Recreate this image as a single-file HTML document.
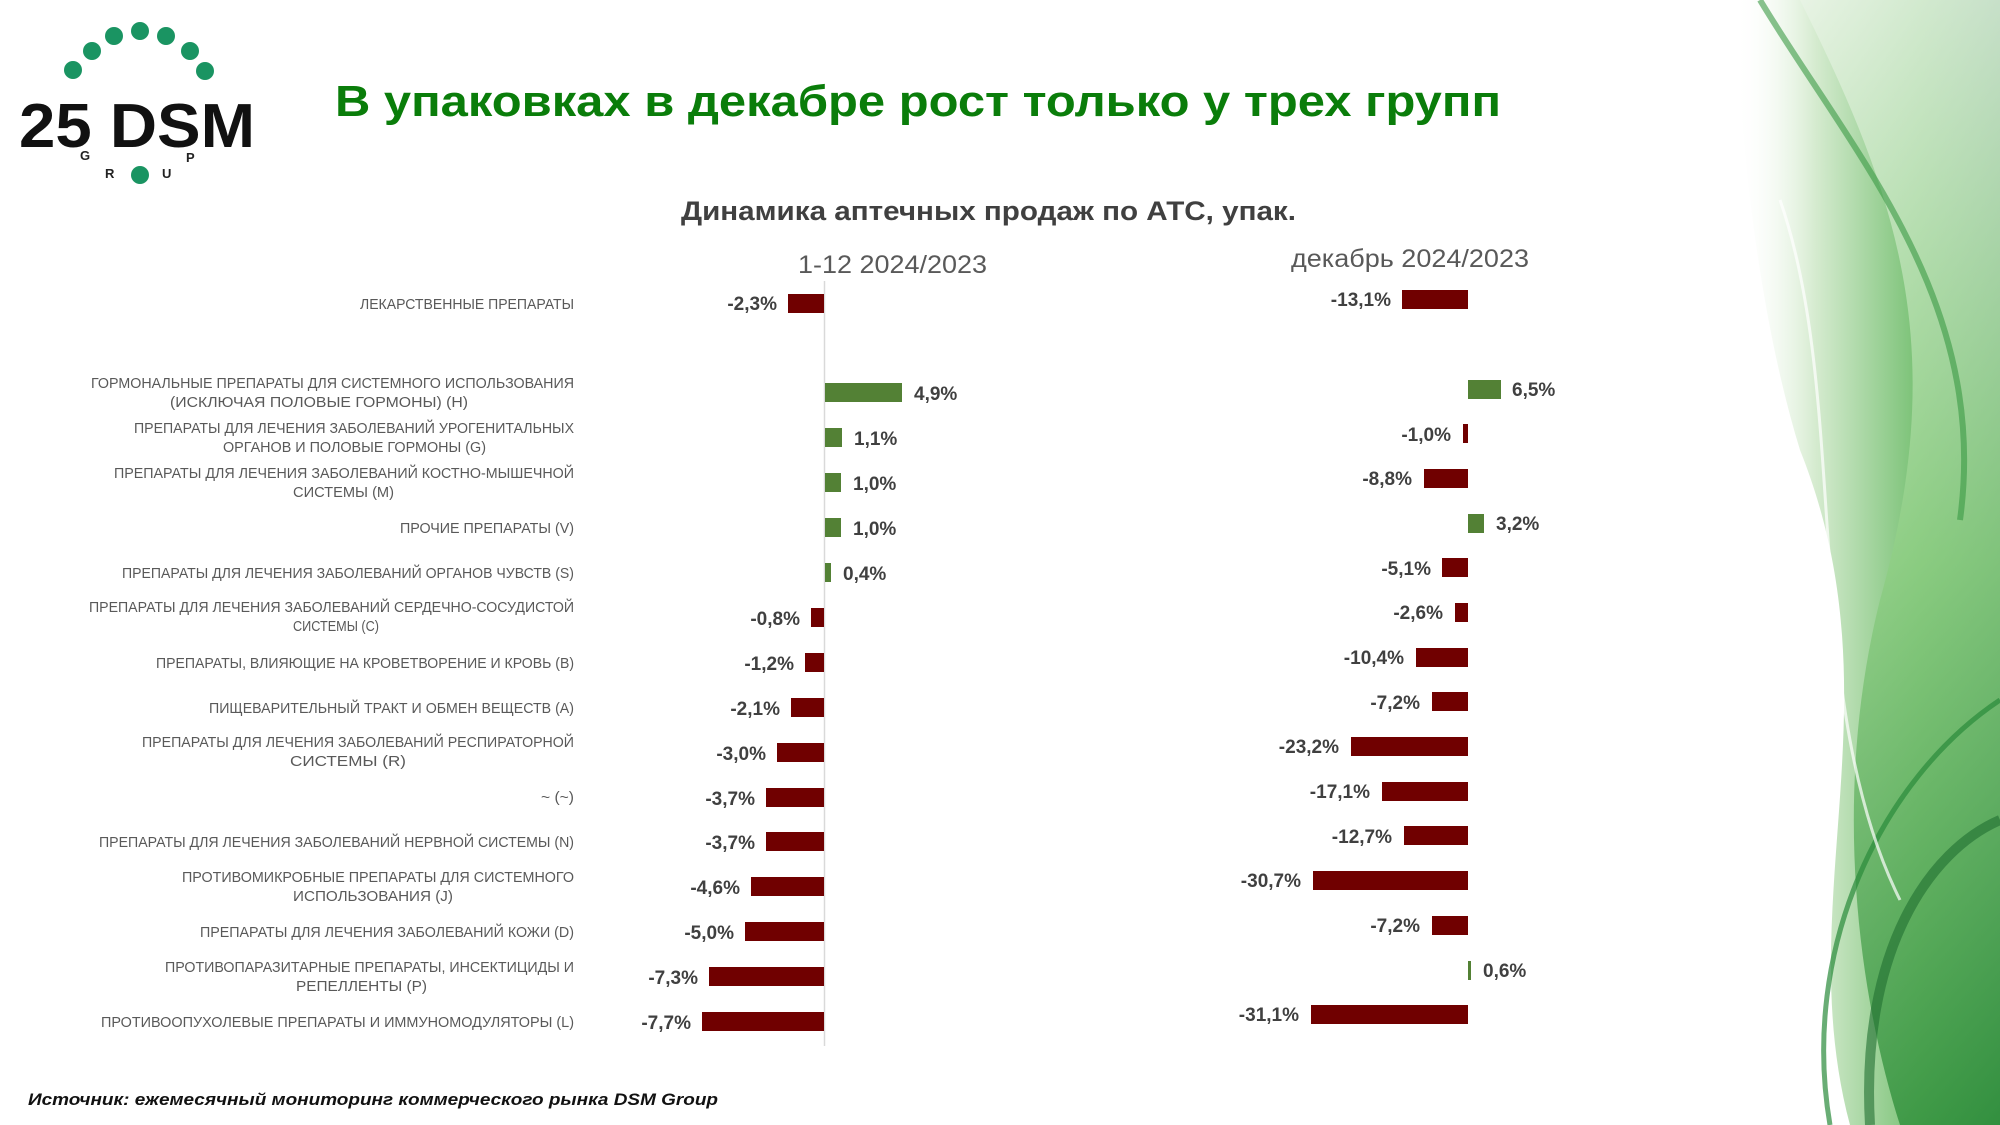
<!DOCTYPE html>
<html><head><meta charset="utf-8"><style>
html,body{margin:0;padding:0;background:#fff;}
svg{display:block;}
.lb{font-family:"Liberation Sans",sans-serif;font-size:15px;fill:#595959;}
.v{font-family:"Liberation Sans",sans-serif;font-size:19px;font-weight:bold;fill:#404040;}
</style></head><body>
<svg width="2000" height="1125" viewBox="0 0 2000 1125" xmlns="http://www.w3.org/2000/svg">
<defs>
<linearGradient id="g1" x1="0" y1="0" x2="1" y2="0">
<stop offset="0" stop-color="#ffffff" stop-opacity="0"/>
<stop offset="0.3" stop-color="#cfe8c8"/>
<stop offset="0.7" stop-color="#5fb55a"/>
<stop offset="1" stop-color="#1e7d36"/>
</linearGradient>
<linearGradient id="g2" x1="0" y1="0" x2="0" y2="1">
<stop offset="0" stop-color="#e9f4e6"/>
<stop offset="0.5" stop-color="#8fcf84"/>
<stop offset="1" stop-color="#2f8f3a"/>
</linearGradient>
</defs>
<!-- decoration -->
<path d="M1735 0 L2000 0 L2000 1125 L1850 1125 C1790 900 1900 700 1800 450 C1760 320 1740 150 1735 0Z" fill="url(#g1)" opacity="0.85"/>
<path d="M1800 0 C1900 200 1950 350 1880 600 C1830 800 1860 1000 1900 1125 L2000 1125 L2000 0Z" fill="url(#g2)" opacity="0.8"/>
<path d="M1760 0 C1850 150 1990 300 1960 520" stroke="#3a9a45" stroke-width="6" fill="none" opacity="0.6"/>
<path d="M1830 1125 C1800 950 1880 780 2000 700" stroke="#2a8a3a" stroke-width="5" fill="none" opacity="0.7"/>
<path d="M1870 1125 C1860 950 1930 850 2000 820" stroke="#1f6e30" stroke-width="10" fill="none" opacity="0.6"/>
<path d="M1780 200 C1850 400 1800 700 1900 900" stroke="#ffffff" stroke-width="3" fill="none" opacity="0.7"/>
<!-- logo -->
<g fill="#1a9462">
<circle cx="73" cy="70" r="9"/><circle cx="92" cy="51" r="9"/><circle cx="114" cy="36" r="9"/><circle cx="140" cy="31" r="9"/><circle cx="166" cy="36" r="9"/><circle cx="190" cy="51" r="9"/><circle cx="205" cy="71" r="9"/><circle cx="140" cy="175" r="9"/>
</g>
<text x="19" y="147" font-family="Liberation Sans,sans-serif" font-size="62" font-weight="bold" fill="#111" textLength="236" lengthAdjust="spacingAndGlyphs">25 DSM</text>
<g font-family="Liberation Sans,sans-serif" font-size="13" font-weight="bold" fill="#222">
<text x="80" y="160">G</text><text x="105" y="178">R</text><text x="162" y="178">U</text><text x="186" y="162">P</text>
</g>
<!-- titles -->
<text x="335" y="116" font-family="Liberation Sans,sans-serif" font-size="44" font-weight="bold" fill="#0a7d0a" textLength="1166" lengthAdjust="spacingAndGlyphs">В упаковках в декабре рост только у трех групп</text>
<text x="681" y="220" font-family="Liberation Sans,sans-serif" font-size="27" font-weight="bold" fill="#404040" textLength="615" lengthAdjust="spacingAndGlyphs">Динамика аптечных продаж по АТС, упак.</text>
<text x="798" y="273" font-family="Liberation Sans,sans-serif" font-size="25" fill="#595959" textLength="189" lengthAdjust="spacingAndGlyphs">1-12 2024/2023</text>
<text x="1291" y="267" font-family="Liberation Sans,sans-serif" font-size="25" fill="#595959" textLength="238" lengthAdjust="spacingAndGlyphs">декабрь 2024/2023</text>
<text x="28" y="1105" font-family="Liberation Sans,sans-serif" font-size="17" font-weight="bold" font-style="italic" fill="#111" textLength="690" lengthAdjust="spacingAndGlyphs">Источник: ежемесячный мониторинг коммерческого рынка DSM Group</text>
<!-- axis -->
<line x1="824.5" y1="281" x2="824.5" y2="1046" stroke="#d9d9d9" stroke-width="1.5"/>
<!-- category labels -->
<text class="lb" x="360" y="309" textLength="214" lengthAdjust="spacingAndGlyphs">ЛЕКАРСТВЕННЫЕ ПРЕПАРАТЫ</text>
<text class="lb" x="91" y="388" textLength="483" lengthAdjust="spacingAndGlyphs">ГОРМОНАЛЬНЫЕ ПРЕПАРАТЫ ДЛЯ СИСТЕМНОГО ИСПОЛЬЗОВАНИЯ</text>
<text class="lb" x="170" y="407" textLength="298" lengthAdjust="spacingAndGlyphs">(ИСКЛЮЧАЯ ПОЛОВЫЕ ГОРМОНЫ) (H)</text>
<text class="lb" x="134" y="433" textLength="440" lengthAdjust="spacingAndGlyphs">ПРЕПАРАТЫ ДЛЯ ЛЕЧЕНИЯ ЗАБОЛЕВАНИЙ УРОГЕНИТАЛЬНЫХ</text>
<text class="lb" x="223" y="452" textLength="263" lengthAdjust="spacingAndGlyphs">ОРГАНОВ И ПОЛОВЫЕ ГОРМОНЫ (G)</text>
<text class="lb" x="114" y="478" textLength="460" lengthAdjust="spacingAndGlyphs">ПРЕПАРАТЫ ДЛЯ ЛЕЧЕНИЯ ЗАБОЛЕВАНИЙ КОСТНО-МЫШЕЧНОЙ</text>
<text class="lb" x="293" y="497" textLength="101" lengthAdjust="spacingAndGlyphs">СИСТЕМЫ (M)</text>
<text class="lb" x="400" y="533" textLength="174" lengthAdjust="spacingAndGlyphs">ПРОЧИЕ ПРЕПАРАТЫ (V)</text>
<text class="lb" x="122" y="578" textLength="452" lengthAdjust="spacingAndGlyphs">ПРЕПАРАТЫ ДЛЯ ЛЕЧЕНИЯ ЗАБОЛЕВАНИЙ ОРГАНОВ ЧУВСТВ (S)</text>
<text class="lb" x="89" y="612" textLength="485" lengthAdjust="spacingAndGlyphs">ПРЕПАРАТЫ ДЛЯ ЛЕЧЕНИЯ ЗАБОЛЕВАНИЙ СЕРДЕЧНО-СОСУДИСТОЙ</text>
<text class="lb" x="293" y="631" textLength="86" lengthAdjust="spacingAndGlyphs">СИСТЕМЫ (C)</text>
<text class="lb" x="156" y="668" textLength="418" lengthAdjust="spacingAndGlyphs">ПРЕПАРАТЫ, ВЛИЯЮЩИЕ НА КРОВЕТВОРЕНИЕ И КРОВЬ (B)</text>
<text class="lb" x="209" y="713" textLength="365" lengthAdjust="spacingAndGlyphs">ПИЩЕВАРИТЕЛЬНЫЙ ТРАКТ И ОБМЕН ВЕЩЕСТВ (A)</text>
<text class="lb" x="142" y="747" textLength="432" lengthAdjust="spacingAndGlyphs">ПРЕПАРАТЫ ДЛЯ ЛЕЧЕНИЯ ЗАБОЛЕВАНИЙ РЕСПИРАТОРНОЙ</text>
<text class="lb" x="290" y="766" textLength="116" lengthAdjust="spacingAndGlyphs">СИСТЕМЫ (R)</text>
<text class="lb" x="541" y="802" textLength="33" lengthAdjust="spacingAndGlyphs">~ (~)</text>
<text class="lb" x="99" y="847" textLength="475" lengthAdjust="spacingAndGlyphs">ПРЕПАРАТЫ ДЛЯ ЛЕЧЕНИЯ ЗАБОЛЕВАНИЙ НЕРВНОЙ СИСТЕМЫ (N)</text>
<text class="lb" x="182" y="882" textLength="392" lengthAdjust="spacingAndGlyphs">ПРОТИВОМИКРОБНЫЕ ПРЕПАРАТЫ ДЛЯ СИСТЕМНОГО</text>
<text class="lb" x="293" y="901" textLength="160" lengthAdjust="spacingAndGlyphs">ИСПОЛЬЗОВАНИЯ (J)</text>
<text class="lb" x="200" y="937" textLength="374" lengthAdjust="spacingAndGlyphs">ПРЕПАРАТЫ ДЛЯ ЛЕЧЕНИЯ ЗАБОЛЕВАНИЙ КОЖИ (D)</text>
<text class="lb" x="165" y="972" textLength="409" lengthAdjust="spacingAndGlyphs">ПРОТИВОПАРАЗИТАРНЫЕ ПРЕПАРАТЫ, ИНСЕКТИЦИДЫ И</text>
<text class="lb" x="296" y="991" textLength="131" lengthAdjust="spacingAndGlyphs">РЕПЕЛЛЕНТЫ (P)</text>
<text class="lb" x="101" y="1027" textLength="473" lengthAdjust="spacingAndGlyphs">ПРОТИВООПУХОЛЕВЫЕ ПРЕПАРАТЫ И ИММУНОМОДУЛЯТОРЫ (L)</text>
<!-- left bars -->
<g fill="#700000">
<rect x="788" y="294" width="36" height="19"/>
<rect x="811" y="608" width="13" height="19"/>
<rect x="805" y="653" width="19" height="19"/>
<rect x="791" y="698" width="33" height="19"/>
<rect x="777" y="743" width="47" height="19"/>
<rect x="766" y="788" width="58" height="19"/>
<rect x="766" y="832" width="58" height="19"/>
<rect x="751" y="877" width="73" height="19"/>
<rect x="745" y="922" width="79" height="19"/>
<rect x="709" y="967" width="115" height="19"/>
<rect x="702" y="1012" width="122" height="19"/>
</g>
<g fill="#538135">
<rect x="825" y="383" width="77" height="19"/>
<rect x="825" y="428" width="17" height="19"/>
<rect x="825" y="473" width="16" height="19"/>
<rect x="825" y="518" width="16" height="19"/>
<rect x="825" y="563" width="6" height="19"/>
</g>
<g class="v">
<text x="777" y="310" text-anchor="end">-2,3%</text>
<text x="914" y="400">4,9%</text>
<text x="854" y="445">1,1%</text>
<text x="853" y="490">1,0%</text>
<text x="853" y="535">1,0%</text>
<text x="843" y="580">0,4%</text>
<text x="800" y="625" text-anchor="end">-0,8%</text>
<text x="794" y="670" text-anchor="end">-1,2%</text>
<text x="780" y="715" text-anchor="end">-2,1%</text>
<text x="766" y="760" text-anchor="end">-3,0%</text>
<text x="755" y="805" text-anchor="end">-3,7%</text>
<text x="755" y="849" text-anchor="end">-3,7%</text>
<text x="740" y="894" text-anchor="end">-4,6%</text>
<text x="734" y="939" text-anchor="end">-5,0%</text>
<text x="698" y="984" text-anchor="end">-7,3%</text>
<text x="691" y="1029" text-anchor="end">-7,7%</text>
</g>
<!-- right bars -->
<g fill="#700000">
<rect x="1402" y="290" width="66" height="19"/>
<rect x="1463" y="424" width="5" height="19"/>
<rect x="1424" y="469" width="44" height="19"/>
<rect x="1442" y="558" width="26" height="19"/>
<rect x="1455" y="603" width="13" height="19"/>
<rect x="1416" y="648" width="52" height="19"/>
<rect x="1432" y="692" width="36" height="19"/>
<rect x="1351" y="737" width="117" height="19"/>
<rect x="1382" y="782" width="86" height="19"/>
<rect x="1404" y="826" width="64" height="19"/>
<rect x="1313" y="871" width="155" height="19"/>
<rect x="1432" y="916" width="36" height="19"/>
<rect x="1311" y="1005" width="157" height="19"/>
</g>
<g fill="#538135">
<rect x="1468" y="380" width="33" height="19"/>
<rect x="1468" y="514" width="16" height="19"/>
<rect x="1468" y="961" width="3" height="19"/>
</g>
<g class="v">
<text x="1391" y="306" text-anchor="end">-13,1%</text>
<text x="1512" y="396">6,5%</text>
<text x="1451" y="441" text-anchor="end">-1,0%</text>
<text x="1412" y="485" text-anchor="end">-8,8%</text>
<text x="1496" y="530">3,2%</text>
<text x="1431" y="575" text-anchor="end">-5,1%</text>
<text x="1443" y="619" text-anchor="end">-2,6%</text>
<text x="1404" y="664" text-anchor="end">-10,4%</text>
<text x="1420" y="709" text-anchor="end">-7,2%</text>
<text x="1339" y="753" text-anchor="end">-23,2%</text>
<text x="1370" y="798" text-anchor="end">-17,1%</text>
<text x="1392" y="843" text-anchor="end">-12,7%</text>
<text x="1301" y="887" text-anchor="end">-30,7%</text>
<text x="1420" y="932" text-anchor="end">-7,2%</text>
<text x="1483" y="977">0,6%</text>
<text x="1299" y="1021" text-anchor="end">-31,1%</text>
</g>
</svg>
</body></html>
